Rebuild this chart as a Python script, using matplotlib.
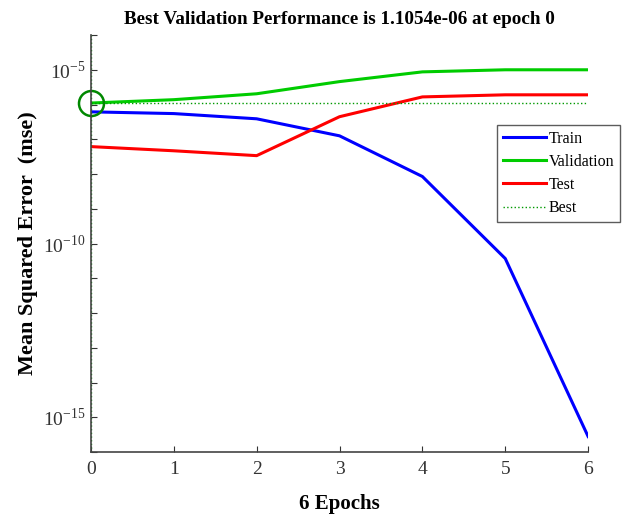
import numpy as np
import matplotlib.pyplot as plt
from matplotlib.ticker import FixedFormatter, FixedLocator

plt.rcParams['font.family'] = ['Liberation Serif', 'DejaVu Serif']
plt.rcParams['mathtext.fontset'] = 'stix'

epochs = [0, 1, 2, 3, 4, 5, 6]
train = [10**-6.21, 10**-6.26, 10**-6.41, 10**-6.9, 10**-8.07, 10**-10.43, 10**-15.55]
validation = [1.1054e-06, 10**-5.86, 10**-5.69, 10**-5.34, 10**-5.06, 10**-5.0, 10**-5.0]
test = [10**-7.21, 10**-7.33, 10**-7.47, 10**-6.35, 10**-5.78, 10**-5.72, 10**-5.72]
best_epoch = 0
best_perf = 1.1054e-06
ytick_exps = list(range(-16, -3))
ytick_labels = {-15: '10$^{\\mathregular{-15}}$', -10: '10$^{\\mathregular{-10}}$', -5: '10$^{\\mathregular{-5}}$'}

fig = plt.figure(figsize=(6.27, 5.15), dpi=100)
ax = fig.add_axes([0.145, 0.122, 0.793, 0.81])

ax.semilogy(epochs, train, color='#0000ff', lw=2.2, label='Train')
ax.semilogy(epochs, validation, color='#00cc00', lw=2.2, label='Validation')
ax.semilogy(epochs, test, color='#ff0000', lw=2.2, label='Test')
ax.axhline(best_perf, color='#009900', lw=1, ls=':', label='Best')
ax.axvline(best_epoch, color='#009900', lw=1, ls=':')
ax.plot([best_epoch], [best_perf], 'o', ms=18, mfc='none', mec='#008800', mew=1.8, clip_on=False)

ax.set_xlim(0, 6)
ax.set_ylim(1e-16, 1e-4)
ax.set_xticks(epochs)
ax.yaxis.set_major_locator(FixedLocator([10.0**k for k in ytick_exps]))
ax.yaxis.set_major_formatter(FixedFormatter([ytick_labels.get(k, '') for k in ytick_exps]))
ax.yaxis.set_minor_locator(plt.NullLocator())
ax.tick_params(direction='in', labelsize=14, length=4, colors='#333333', labelcolor='#333333')
ax.tick_params(axis='x', pad=6)
for s in ['top', 'right']:
    ax.spines[s].set_visible(False)
for s in ['left', 'bottom']:
    ax.spines[s].set_color('#444444')
    ax.spines[s].set_linewidth(1.2)

ax.set_title('Best Validation Performance is 1.1054e-06 at epoch 0',
             fontsize=13.8, fontweight='bold', pad=8)
ax.set_xlabel('6 Epochs', fontsize=15, fontweight='bold', labelpad=12)
ax.set_ylabel('Mean Squared Error  (mse)', fontsize=16, fontweight='bold', labelpad=4)

leg = ax.legend(loc='upper left', bbox_to_anchor=(497/627, 1 - 125/515),
                bbox_transform=fig.transFigure, fontsize=11.5, frameon=True,
                fancybox=False, edgecolor='#333333', handlelength=2.7,
                handletextpad=0.2, borderpad=0.35, labelspacing=0.45, borderaxespad=0)
leg.get_frame().set_linewidth(1.0)

fig.savefig('out.png', dpi=100)
